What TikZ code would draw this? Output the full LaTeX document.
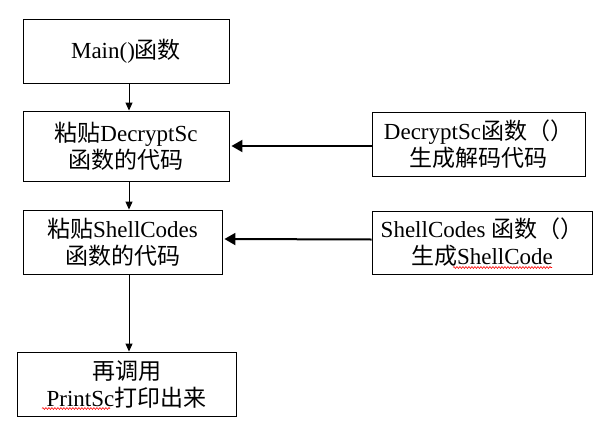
\documentclass[tikz,border=0pt]{standalone}
\usepackage{fontspec}
\setmainfont{Liberation Serif}
\newfontfamily\cjk{Noto Sans CJK SC}
\usetikzlibrary{arrows.meta,decorations.pathmorphing}
\begin{document}
\begin{tikzpicture}[x=1pt,y=-1pt,
  box/.style={draw=black,line width=0.9pt,inner sep=0pt,align=center,
    font=\fontsize{23}{27}\selectfont},
  varrow/.style={draw=black,line width=1pt,-{Triangle[length=8pt,width=7pt]}},
  harrow/.style={draw=black,line width=2pt,-{Triangle[length=11pt,width=12pt]}},
  spell/.style={draw=red,line width=0.6pt,decorate,
    decoration={snake,amplitude=0.9pt,segment length=3pt}}]
\useasboundingbox[fill=white] (0,0) rectangle (609,420);
\node[box,minimum width=206pt,minimum height=64pt] (Main) at (126,51) {Main(){\cjk 函数}};
\node[box,minimum width=206pt,minimum height=70pt] (B2) at (126,146) {{\cjk 粘贴}DecryptSc\\{\cjk 函数的代码}};
\node[box,minimum width=199pt,minimum height=64pt] (B3) at (122.5,242) {{\cjk 粘贴}ShellCodes\\{\cjk 函数的代码}};
\node[box,minimum width=219pt,minimum height=64pt] (B4) at (126.5,384) {{\cjk 再调用}\\PrintSc{\cjk 打印出来}};
\node[box,minimum width=213pt,minimum height=64pt] (R1) at (478.5,144) {DecryptSc{\cjk 函数（）}\\{\cjk 生成解码代码}};
\node[box,minimum width=220pt,minimum height=63pt] (R2) at (482,242.5) {ShellCodes {\cjk 函数（）}\\{\cjk 生成}ShellCode};
\coordinate (ax) at (129,0);
\draw[varrow] (Main.south -| ax) -- (B2.north -| ax);
\draw[varrow] (B2.south -| ax) -- (B3.north -| ax);
\draw[varrow] (B3.south -| ax) -- (B4.north -| ax);
\draw[harrow] (R1.west |- B2.east) -- ([xshift=2pt]B2.east);
\draw[harrow] ([yshift=3pt]R2.west) -- ([xshift=2pt,yshift=3pt]B3.east);
\draw[spell] (42,408.5) -- (110,408.5);
\draw[spell] (453,267.5) -- (552,267.5);
\end{tikzpicture}
\end{document}
